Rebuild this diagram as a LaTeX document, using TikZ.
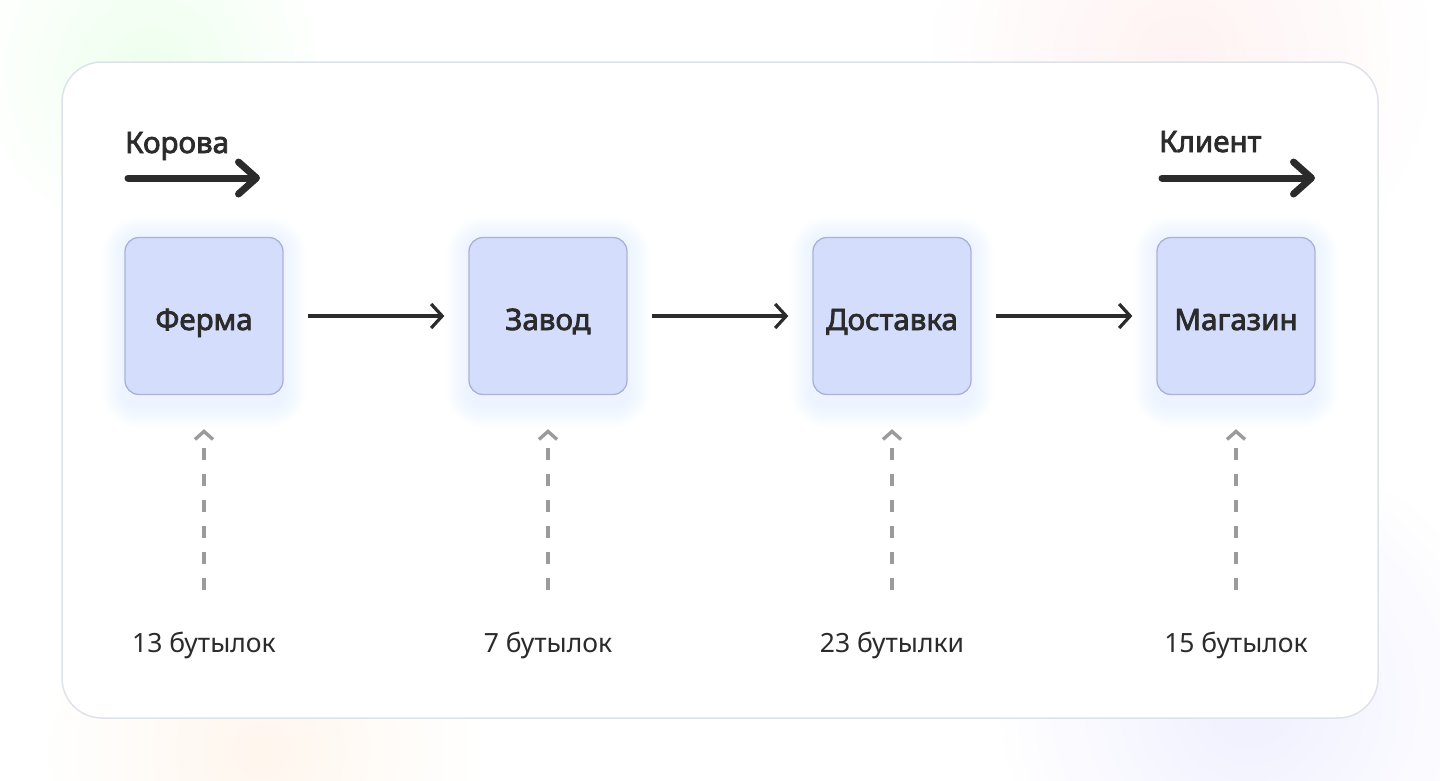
\documentclass[tikz,border=0pt]{standalone}
\usepackage{fontspec}
\setmainfont{Noto Sans}
\newfontfamily\semib{Noto Sans}[FakeBold=2.6]
\usetikzlibrary{arrows.meta,backgrounds}
\pgfdeclarelayer{back}
\pgfsetlayers{back,background,main}
\definecolor{ink}{HTML}{2B2B2B}
\definecolor{boxfill}{HTML}{D5DDFD}
\definecolor{boxline}{HTML}{A9B2D2}
\definecolor{panelline}{HTML}{DEE2EA}
\definecolor{dashc}{HTML}{9B9B9B}
\definecolor{glowc}{HTML}{B4C0FF}
\tikzset{
  stagebox/.style={draw=boxline, line width=1.3pt, fill=boxfill, rounded corners=14pt,
    minimum width=158pt, minimum height=157pt, inner sep=0pt, text height=28pt, text depth=0pt,
    font=\fontsize{29.5}{32}\semib, text=ink},
  toplabel/.style={anchor=base west, inner sep=0pt, font=\fontsize{29.5}{32}\semib, text=ink},
  countlabel/.style={anchor=base, inner sep=0pt, font=\fontsize{26.5}{30}\selectfont, text=ink},
  flowarrow/.style={draw=ink, line width=3.2pt, -{Straight Barb[length=11pt,width=24pt,line width=3.2pt]}},
  bigarrow/.style={draw=ink, line width=7pt, line cap=round, -{Straight Barb[length=18pt,width=32pt,round]}},
  feedarrow/.style={draw=dashc, line width=3.4pt, dash pattern=on 12pt off 14pt,
    -{Straight Barb[length=8pt,width=18pt,line width=3.4pt]}},
}
\begin{document}
\begin{tikzpicture}[x=1pt,y=-1pt]
\useasboundingbox (0,0) rectangle (1440,780);
\begin{pgfonlayer}{back}
% background tints
\fill[white] (0,0) rectangle (1440,780);
\shade[inner color=green!7, outer color=white] (150,70) circle (180);
\shade[inner color=red!5, outer color=white] (1180,60) circle (260);
\shade[inner color=orange!7, outer color=white] (260,750) circle (220);
\shade[inner color=blue!6, outer color=white] (1250,700) circle (260);
% panel
\draw[panelline, line width=1.5pt, fill=white, rounded corners=40pt] (62,62) rectangle (1378,718);
\end{pgfonlayer}

% stage boxes
\node[stagebox] (f) at (204,316) {Ферма};
\node[stagebox] (z) at (548,316) {Завод};
\node[stagebox] (d) at (892,316) {Доставка};
\node[stagebox] (m) at (1236,316) {Магазин};

% glow behind boxes
\begin{scope}[on background layer]
\foreach \n in {f,z,d,m}{
  \foreach \r in {2,4,...,22}{
    \fill[glowc, opacity=0.016, rounded corners=14pt+\r pt]
      ([shift={(-\r pt,\r pt-2pt)}]\n.north west) rectangle ([shift={(\r pt,-\r pt-10pt)}]\n.south east);
  }
}
\end{scope}

% flow arrows
\draw[flowarrow] ([xshift=24pt]f.east) -- ([xshift=-24pt]z.west);
\draw[flowarrow] ([xshift=24pt]z.east) -- ([xshift=-24pt]d.west);
\draw[flowarrow] ([xshift=24pt]d.east) -- ([xshift=-24pt]m.west);

% top labels and arrows
\node[toplabel] (cow) at (125,153) {Корова};
\node[toplabel] (client) at (1159,152) {Клиент};
\coordinate (cowS) at (128,178);
\coordinate (cowE) at (260,178);
\coordinate (cliS) at (1162,178);
\coordinate (cliE) at (1315,178);
\draw[bigarrow] (cowS) -- (cowE);
\draw[bigarrow] (cliS) -- (cliE);

% count labels
\node[countlabel] (cf) at (204,652) {13 бутылок};
\node[countlabel] (cz) at (548,652) {7 бутылок};
\node[countlabel] (cd) at (892,652) {23 бутылки};
\node[countlabel] (cm) at (1236,652) {15 бутылок};

% dashed feed arrows
\foreach \c/\b in {cf/f,cz/z,cd/d,cm/m}{
  \draw[feedarrow] ([yshift=62pt]\c.base) -- ([yshift=-34pt]\b.south);
}
\end{tikzpicture}
\end{document}
